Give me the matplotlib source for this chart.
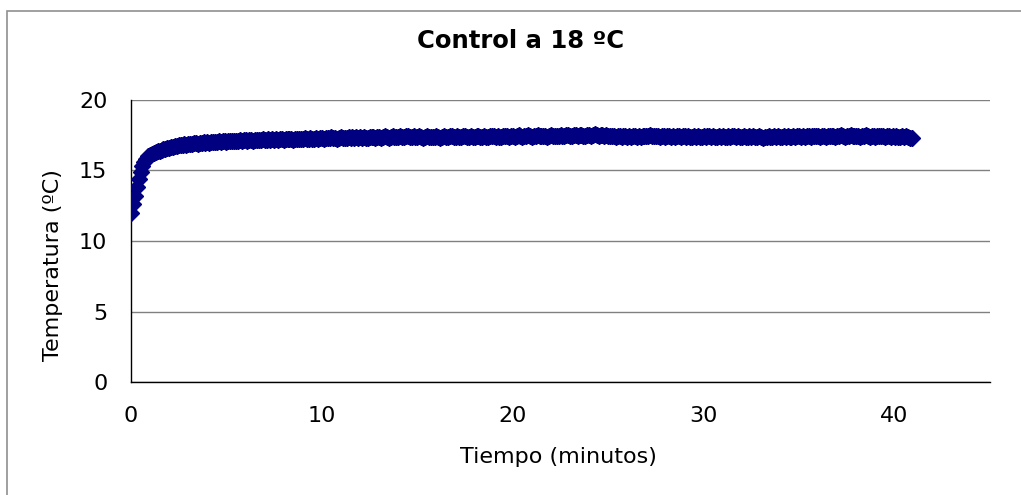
import numpy as np
import matplotlib
matplotlib.use('Agg')
import matplotlib.pyplot as plt
from matplotlib.patches import Rectangle

plt.rcParams['font.family'] = ['DejaVu Sans']

# temperature readings, one every 6 s (0.1 min)
tiempo = np.arange(410) * 0.1
temperatura = [
    12.0, 12.6, 13.2, 13.8, 14.4, 14.9, 15.3, 15.6, 15.85, 16.0,
    16.1, 16.2, 16.25, 16.3, 16.35, 16.4, 16.45, 16.5, 16.55, 16.6,
    16.62, 16.65, 16.7, 16.72, 16.75, 16.8, 16.78, 16.82, 16.85, 16.83,
    16.88, 16.9, 16.87, 16.92, 16.95, 16.9, 16.97, 16.95, 17.0, 16.96,
    17.0, 16.98, 17.02, 17.05, 17.0, 17.03, 17.07, 17.02, 17.06, 17.08,
    17.05, 17.1, 17.06, 17.1, 17.12, 17.07, 17.11, 17.14, 17.1, 17.13,
    17.15, 17.1, 17.14, 17.17, 17.12, 17.16, 17.18, 17.13, 17.17, 17.2,
    17.15, 17.19, 17.22, 17.16, 17.2, 17.18, 17.23, 17.17, 17.21, 17.24,
    17.19, 17.22, 17.25, 17.2, 17.24, 17.18, 17.23, 17.26, 17.21, 17.25,
    17.22, 17.27, 17.2, 17.25, 17.28, 17.23, 17.26, 17.3, 17.24, 17.28,
    17.3, 17.25, 17.32, 17.27, 17.3, 17.35, 17.28, 17.32, 17.26, 17.33,
    17.36, 17.3, 17.34, 17.28, 17.37, 17.32, 17.35, 17.3, 17.38, 17.33,
    17.36, 17.31, 17.39, 17.34, 17.3, 17.37, 17.41, 17.35, 17.32, 17.38,
    17.4, 17.34, 17.38, 17.42, 17.36, 17.33, 17.4, 17.44, 17.37, 17.41,
    17.38, 17.45, 17.4, 17.36, 17.43, 17.47, 17.41, 17.38, 17.44, 17.4,
    17.35, 17.42, 17.38, 17.33, 17.4, 17.44, 17.37, 17.41, 17.35, 17.39,
    17.43, 17.38, 17.34, 17.41, 17.45, 17.39, 17.36, 17.42, 17.46, 17.4,
    17.37, 17.43, 17.39, 17.35, 17.42, 17.47, 17.41, 17.38, 17.44, 17.4,
    17.36, 17.43, 17.47, 17.41, 17.38, 17.45, 17.4, 17.37, 17.44, 17.48,
    17.42, 17.39, 17.45, 17.41, 17.37, 17.44, 17.48, 17.42, 17.39, 17.46,
    17.43, 17.4, 17.47, 17.5, 17.44, 17.41, 17.46, 17.42, 17.49, 17.45,
    17.41, 17.47, 17.43, 17.5, 17.46, 17.42, 17.48, 17.44, 17.4, 17.47,
    17.51, 17.45, 17.42, 17.48, 17.44, 17.5, 17.46, 17.43, 17.49, 17.52,
    17.47, 17.44, 17.5, 17.53, 17.46, 17.49, 17.55, 17.48, 17.45, 17.51,
    17.54, 17.48, 17.52, 17.56, 17.5, 17.47, 17.53, 17.49, 17.45, 17.51,
    17.46, 17.42, 17.48, 17.44, 17.4, 17.46, 17.43, 17.39, 17.45, 17.42,
    17.38, 17.44, 17.4, 17.46, 17.42, 17.38, 17.45, 17.41, 17.47, 17.43,
    17.48, 17.44, 17.5, 17.46, 17.42, 17.48, 17.45, 17.41, 17.47, 17.43,
    17.4, 17.46, 17.42, 17.38, 17.44, 17.41, 17.47, 17.43, 17.39, 17.45,
    17.42, 17.38, 17.44, 17.4, 17.36, 17.43, 17.39, 17.45, 17.41, 17.37,
    17.43, 17.4, 17.46, 17.42, 17.38, 17.44, 17.41, 17.37, 17.43, 17.39,
    17.45, 17.41, 17.37, 17.44, 17.4, 17.46, 17.42, 17.38, 17.45, 17.41,
    17.37, 17.43, 17.39, 17.35, 17.42, 17.38, 17.44, 17.4, 17.36, 17.42,
    17.38, 17.34, 17.41, 17.37, 17.43, 17.39, 17.35, 17.42, 17.38, 17.44,
    17.4, 17.36, 17.43, 17.39, 17.45, 17.41, 17.37, 17.44, 17.4, 17.46,
    17.42, 17.38, 17.45, 17.41, 17.47, 17.43, 17.39, 17.46, 17.42, 17.48,
    17.44, 17.4, 17.47, 17.43, 17.39, 17.46, 17.42, 17.48, 17.44, 17.4,
    17.47, 17.43, 17.49, 17.45, 17.41, 17.48, 17.44, 17.5, 17.46, 17.42,
    17.48, 17.44, 17.4, 17.47, 17.43, 17.49, 17.45, 17.41, 17.47, 17.43,
    17.39, 17.46, 17.42, 17.48, 17.44, 17.4, 17.46, 17.42, 17.38, 17.45,
    17.41, 17.44, 17.4, 17.37, 17.43, 17.39, 17.42, 17.36, 17.33, 17.3,
]
x_ticks = [0, 10, 20, 30, 40]
y_ticks = [0, 5, 10, 15, 20]

fig = plt.figure(figsize=(10.21, 4.95), dpi=100)
ax = fig.add_axes([131 / 1021, 1 - 382 / 495, 859 / 1021, 282 / 495])

ax.plot(tiempo, temperatura, linestyle='none', marker='D', markersize=8.5,
        color='#000080', markeredgecolor='#000080', zorder=3)

ax.set_xlim(0, 45)
ax.set_ylim(0, 20)
ax.set_xticks(x_ticks)
ax.set_yticks(y_ticks)
ax.tick_params(length=0, labelsize=16, pad=17)
ax.yaxis.grid(True, color='#808080', linewidth=1)
ax.set_axisbelow(True)
for side in ['top', 'right']:
    ax.spines[side].set_visible(False)
for side in ['left', 'bottom']:
    ax.spines[side].set_color('black')
    ax.spines[side].set_linewidth(1)

ax.set_xlabel('Tiempo (minutos)', fontsize=16)
ax.set_ylabel('Temperatura (ºC)', fontsize=16)
ax.xaxis.set_label_coords(0.498, -0.23)
ax.yaxis.set_label_coords(-0.079, 0.415)
fig.text(521 / 1021, 1 - 41 / 495, 'Control a 18 ºC', fontsize=17.5,
         fontweight='bold', ha='center', va='center')

# outer chart border
fig.add_artist(Rectangle((7 / 1021, -0.1), 1.2, 1.1 - 11 / 495,
                         transform=fig.transFigure, fill=False,
                         edgecolor='#909090', linewidth=1.2))

fig.savefig('out.png', dpi=100)
